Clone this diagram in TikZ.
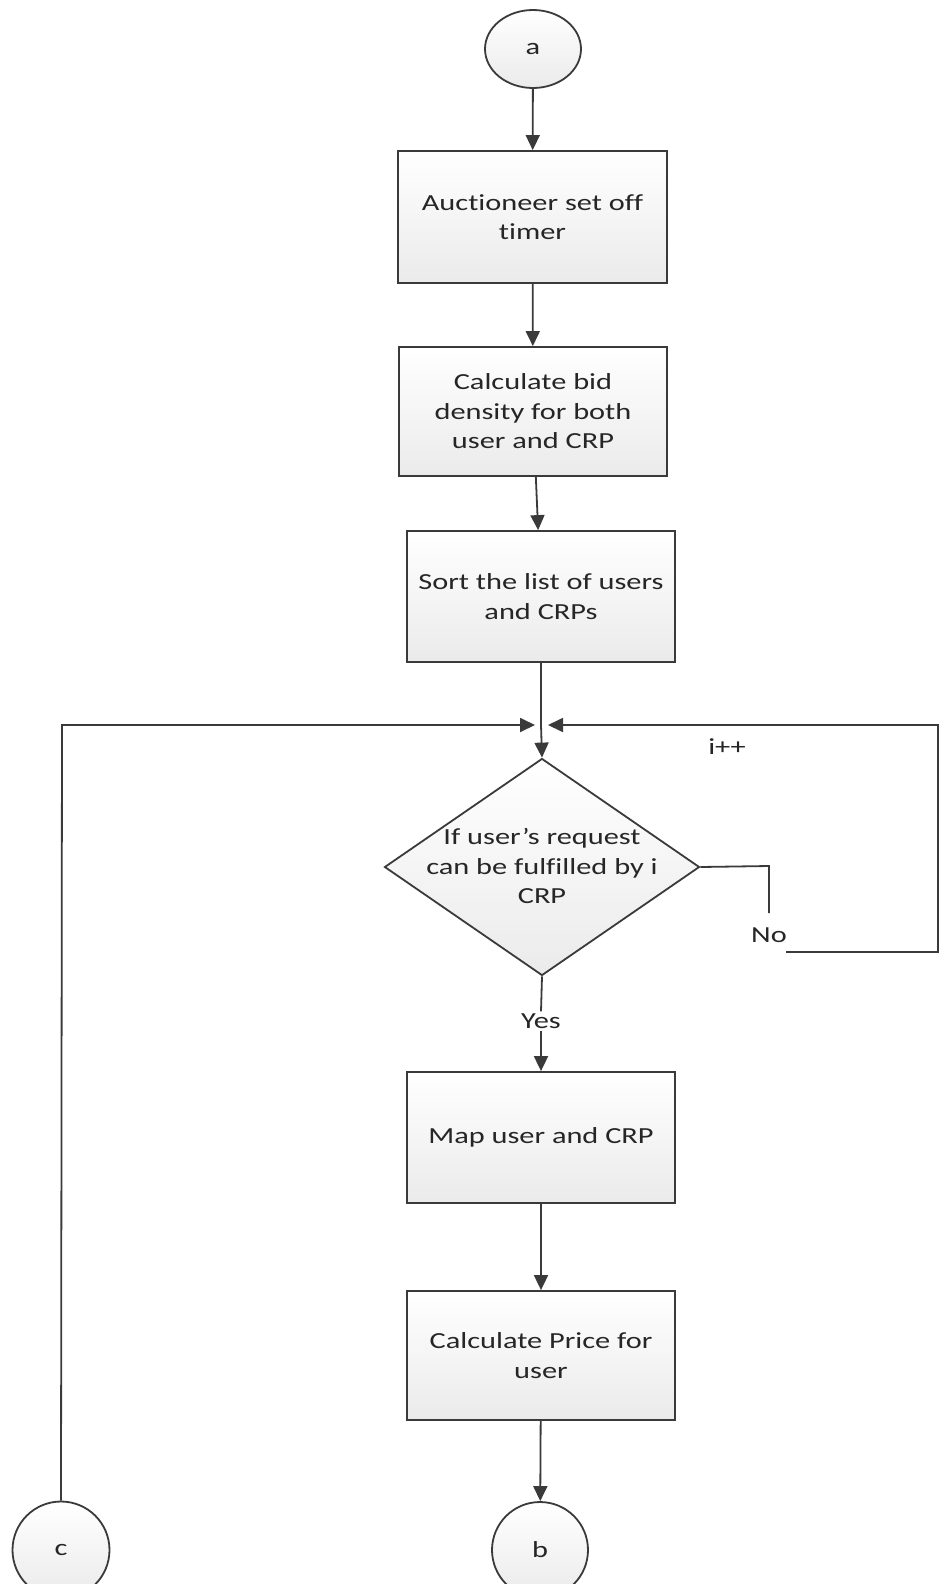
\documentclass[tikz,border=0pt]{standalone}
\usepackage{fontspec}
\setmainfont[FakeStretch=1.32, Ligatures={NoCommon}]{Carlito}
\usetikzlibrary{arrows.meta,shapes.geometric}
\definecolor{ln}{HTML}{3A3A3A}
\definecolor{tx}{HTML}{262626}
\begin{document}
\begin{tikzpicture}[x=1pt,y=-1pt,
  font=\fontsize{23}{29.5}\selectfont, text=tx,
  line/.style={draw=ln, line width=1.8pt},
  arr/.style={line, -{Triangle[length=15pt,width=14pt]}},
  shade/.style={top color=white, bottom color=gray!16},
  proc/.style={rectangle, draw=ln, line width=1.8pt, shade, minimum width=268pt, align=center, inner sep=0pt},
  conn/.style={ellipse, draw=ln, line width=1.8pt, shade, inner sep=0pt},
  decide/.style={diamond, draw=ln, line width=1.8pt, shade, minimum width=315pt, minimum height=217pt, inner sep=0pt},
  lbl/.style={fill=white, inner sep=2pt}]
\useasboundingbox (0,0) rectangle (940,1584);

% connectors a, b, c
\node[conn, minimum width=96pt, minimum height=78pt] (ca) at (533,49) {a};
\node[conn, minimum width=96pt, minimum height=96pt] (cb) at (540,1550) {b};
\node[conn, minimum width=97pt, minimum height=97pt] (cc) at (61,1550) {c};

% process steps
\node[proc, minimum width=269pt, minimum height=132pt] (b1) at (532.5,217) {Auctioneer set off\\timer};
\node[proc, minimum height=129pt] (b2) at (533,411.5) {Calculate bid\\density for both\\user and CRP};
\node[proc, minimum height=131pt] (b3) at (541,596.5) {Sort the list of users\\and CRPs};
\node[decide] (dec) at (542,867) {};
\node[align=center] (dect) at (542,866) {If user’s request\\can be fulfilled by i\\CRP};
\node[proc, minimum height=131pt] (b4) at (541,1137.5) {Map user and CRP};
\node[proc, minimum height=129pt] (b5) at (541,1355.5) {Calculate Price for\\user};

% loop junction and branch points
\coordinate (j) at (541,725);
\coordinate (jl) at (535,725);
\coordinate (jr) at (548,725);
\coordinate (n1) at (769,866);
\coordinate (n2) at (769,913);
\coordinate (n3) at (786,952);
\coordinate (n4) at (938,952);
\coordinate (n5) at (938,725);
\coordinate (cl) at (62,725);

\node (inc) at (727,747) {i++};
\node (no) at (769,935) {No};
\node[lbl] (yes) at (541,1021) {Yes};

% main flow
\draw[arr] (ca) -- (b1);
\draw[arr] (b1) -- (b2);
\draw[arr] (b2) -- (b3);
\draw[line] (b3.south) -- (j);
\draw[arr] (j) -- (dec.north);
\draw[line] (dec.south) -- (yes.north);
\draw[arr] (yes.south) -- (b4.north);
\draw[arr] (b4) -- (b5);
\draw[arr] (b5) -- (cb);

% "No" branch back to the junction
\draw[line] (dec.east) -- (n1) -- (n2);
\draw[arr] (n3) -- (n4) -- (n5) -- (jr);

% return from connector c
\draw[arr] (cc.north) -- (cl) -- (jl);
\end{tikzpicture}
\end{document}
